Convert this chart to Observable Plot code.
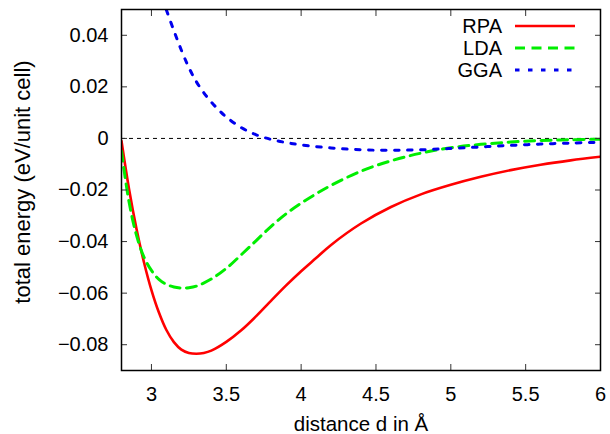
<!DOCTYPE html>
<html>
<head>
<meta charset="utf-8">
<script src="https://cdn.jsdelivr.net/npm/d3@7"></script>
<script src="https://cdn.jsdelivr.net/npm/@observablehq/plot@0.6"></script>
<style>
  html, body { margin: 0; padding: 0; background: #fff; }
  #chart svg { display: block; }
</style>
</head>
<body>
<div id="chart"></div>
<script>
// ---- data ----
const rpaD = [2.80, 2.85, 2.90, 2.95, 3.00, 3.05, 3.10, 3.15, 3.20, 3.25, 3.30, 3.35, 3.40, 3.50, 3.60, 3.70, 3.80, 3.90, 4.00, 4.10, 4.20, 4.40, 4.60, 4.80, 5.00, 5.20, 5.40, 5.60, 5.80, 6.00];
const rpaE = [-0.001, -0.0195, -0.0350, -0.0480, -0.0588, -0.0675, -0.0743, -0.0790, -0.0819, -0.0832, -0.0835, -0.0832, -0.0823, -0.0789, -0.0744, -0.0689, -0.0629, -0.0570, -0.0515, -0.0464, -0.0413, -0.0330, -0.0266, -0.0217, -0.0180, -0.0149, -0.0123, -0.0102, -0.0085, -0.0071];

const ldaD = [2.80, 2.85, 2.90, 2.95, 3.00, 3.05, 3.10, 3.15, 3.20, 3.25, 3.30, 3.40, 3.50, 3.60, 3.70, 3.80, 3.90, 4.00, 4.10, 4.20, 4.40, 4.60, 4.80, 5.00, 5.20, 5.40, 5.60, 5.80, 6.00];
const ldaE = [-0.005, -0.0245, -0.0375, -0.0460, -0.0512, -0.0547, -0.0566, -0.0576, -0.0580, -0.0579, -0.0573, -0.0545, -0.0504, -0.0451, -0.0396, -0.0341, -0.0292, -0.0251, -0.0215, -0.0182, -0.0127, -0.0087, -0.0057, -0.0036, -0.0023, -0.0014, -0.0008, -0.0005, -0.0003];

const ggaD = [3.10, 3.15, 3.20, 3.25, 3.30, 3.35, 3.40, 3.45, 3.50, 3.60, 3.70, 3.80, 3.90, 4.00, 4.20, 4.40, 4.60, 4.80, 5.00, 5.20, 5.40, 5.60, 5.80, 6.00];
const ggaE = [0.0498, 0.0418, 0.0342, 0.0275, 0.0220, 0.0177, 0.0141, 0.0110, 0.0083, 0.0042, 0.0014, -0.0004, -0.0016, -0.0025, -0.0037, -0.0044, -0.0046, -0.0044, -0.0039, -0.0033, -0.0027, -0.0022, -0.0018, -0.0015];

const seriesNames = ["RPA", "LDA", "GGA"];
const xTicks = [3, 3.5, 4, 4.5, 5, 5.5, 6];
const yTicks = [-0.08, -0.06, -0.04, -0.02, 0, 0.02, 0.04];
const xDomain = [2.8, 6];
const yDomain = [-0.09, 0.05];
const xLabel = "distance d in Å";
const yLabel = "total energy (eV/unit cell)";

// ---- build tables ----
const zip = (ds, es) => ds.map((d, i) => ({d, e: es[i]}));
const rpa = zip(rpaD, rpaE);
const lda = zip(ldaD, ldaE);
const gga = zip(ggaD, ggaE);

const styles = [
  {stroke: "#ff0000", strokeWidth: 2.6, strokeDasharray: null},
  {stroke: "#00ee00", strokeWidth: 3, strokeDasharray: "10,6.5"},
  {stroke: "#0000ee", strokeWidth: 3, strokeDasharray: "4.5,8.5"}
];

const fmt = v => (v < 0 ? "\u2212" : "") + String(+Math.abs(v).toFixed(4));
const font = "'Liberation Sans', Arial, Helvetica, sans-serif";

const chart = Plot.plot({
  width: 610,
  height: 434,
  marginLeft: 121,
  marginRight: 10,
  marginTop: 9,
  marginBottom: 64,
  style: {fontFamily: font, fontSize: "20px", background: "#fff", color: "#000", overflow: "visible"},
  x: {domain: xDomain},
  y: {domain: yDomain},
  marks: [
    Plot.ruleY([0], {stroke: "#000", strokeWidth: 1, strokeDasharray: "4,4"}),
    Plot.line(rpa, {x: "d", y: "e", curve: "catmull-rom", clip: true, ...styles[0]}),
    Plot.line(lda, {x: "d", y: "e", curve: "catmull-rom", clip: true, ...styles[1]}),
    Plot.line(gga, {x: "d", y: "e", curve: "catmull-rom", clip: true, ...styles[2]}),
    Plot.axisX({anchor: "bottom", ticks: xTicks, tickSize: -6, tickPadding: 22, tickFormat: fmt, label: null, stroke: "#333"}),
    Plot.axisX({anchor: "top", ticks: xTicks, tickSize: -6, tickFormat: () => "", label: null, stroke: "#333"}),
    Plot.axisY({anchor: "left", ticks: yTicks, tickSize: -6, tickPadding: 19, tickFormat: fmt, label: null, stroke: "#333"}),
    Plot.axisY({anchor: "right", ticks: yTicks, tickSize: -6, tickFormat: () => "", label: null, stroke: "#333"}),
    Plot.frame({stroke: "#000", strokeWidth: 1.5})
  ]
});

document.getElementById("chart").appendChild(chart);

// ---- axis titles and legend overlay ----
const svg = d3.select(chart);
svg.append("text")
  .attr("x", 361).attr("y", 423)
  .attr("text-anchor", "middle").attr("dominant-baseline", "central")
  .attr("font-family", font).attr("font-size", 20.5)
  .text(xLabel);
svg.append("text")
  .attr("transform", "translate(22,182) rotate(-90)")
  .attr("text-anchor", "middle").attr("dominant-baseline", "central")
  .attr("font-family", font).attr("font-size", 22)
  .text(yLabel);

const leg = svg.append("g");
seriesNames.forEach((name, i) => {
  const y = 26 + i * 22;
  leg.append("text")
    .attr("x", 502).attr("y", y)
    .attr("text-anchor", "end").attr("dominant-baseline", "central")
    .attr("font-family", font).attr("font-size", 20)
    .text(name);
  leg.append("line")
    .attr("x1", 515).attr("x2", 575).attr("y1", y).attr("y2", y)
    .attr("stroke", styles[i].stroke)
    .attr("stroke-width", styles[i].strokeWidth)
    .attr("stroke-dasharray", styles[i].strokeDasharray);
});
</script>
</body>
</html>
